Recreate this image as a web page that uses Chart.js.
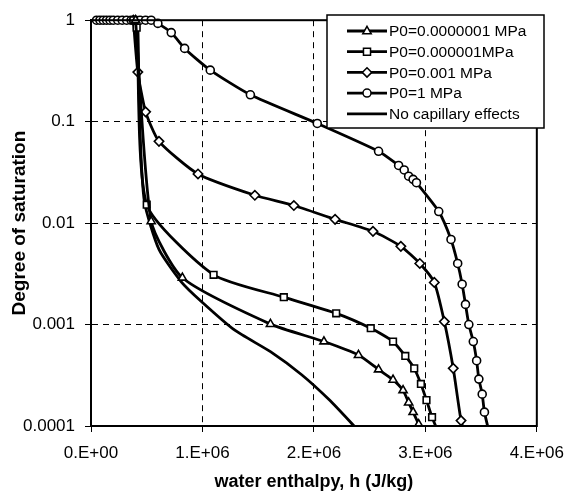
<!DOCTYPE html>
<html>
<head>
<meta charset="utf-8">
<script src="https://cdn.jsdelivr.net/npm/chart.js@4.4.1/dist/chart.umd.min.js"></script>
<style>
  html, body { margin: 0; padding: 0; background: #fff; }
  #wrap { width: 575px; height: 498px; }
</style>
</head>
<body>
<div id="wrap"><canvas id="satChart" width="575" height="498"></canvas></div>
<script>
// tick values and labels
const xTickValues = [0, 1e6, 2e6, 3e6, 4e6];
const xTickLabels = ['0.E+00', '1.E+06', '2.E+06', '3.E+06', '4.E+06'];
const yTickValues = [0.0001, 0.001, 0.01, 0.1, 1];
const yTickLabels = ['0.0001', '0.001', '0.01', '0.1', '1'];

const seriesNames = ['P0=0.0000001 MPa', 'P0=0.000001MPa', 'P0=0.001 MPa', 'P0=1 MPa', 'No capillary effects'];

// P0=0.0000001 MPa (triangles)
const triH = [0.40e6, 0.54e6, 0.82e6, 1.61e6, 2.09e6, 2.40e6, 2.58e6, 2.71e6, 2.80e6, 2.85e6, 2.89e6, 2.94e6, 2.99e6];
const triS = [1, 0.0104, 0.00289, 0.00101, 0.00068, 0.0005, 0.00036, 0.000285, 0.000225, 0.00017, 0.000137, 0.000104, 0.00008];

// P0=0.000001 MPa (squares)
const sqH = [0.38e6, 0.41e6, 0.50e6, 1.10e6, 1.73e6, 2.20e6, 2.51e6, 2.71e6, 2.82e6, 2.90e6, 2.96e6, 3.01e6, 3.06e6, 3.13e6];
const sqS = [1, 0.845, 0.0152, 0.00309, 0.00186, 0.00129, 0.00092, 0.00068, 0.00049, 0.00037, 0.00026, 0.00018, 0.000122, 0.00008];

// P0=0.001 MPa (diamonds)
const diaH = [0.38e6, 0.42e6, 0.49e6, 0.61e6, 0.96e6, 1.47e6, 1.82e6, 2.19e6, 2.53e6, 2.78e6, 2.95e6, 3.08e6, 3.17e6, 3.25e6, 3.32e6, 3.36e6];
const diaS = [1, 0.308, 0.125, 0.064, 0.0305, 0.0188, 0.0149, 0.0109, 0.0083, 0.0059, 0.0040, 0.0026, 0.00107, 0.00037, 0.000113, 0.00008];

// P0=1 MPa (circles)
const cirH = [0.05e6, 0.08e6, 0.11e6, 0.14e6, 0.17e6, 0.20e6, 0.24e6, 0.28e6, 0.32e6, 0.36e6, 0.40e6, 0.44e6, 0.49e6, 0.54e6,
              0.60e6, 0.72e6, 0.84e6, 1.07e6, 1.43e6, 2.03e6, 2.58e6, 2.76e6, 2.81e6, 2.85e6, 2.89e6, 2.92e6,
              3.12e6, 3.23e6, 3.29e6, 3.33e6, 3.36e6, 3.39e6, 3.43e6, 3.46e6, 3.48e6, 3.51e6, 3.53e6, 3.58e6];
const cirS = [1, 1, 1, 1, 1, 1, 1, 1, 1, 1, 1, 1, 1, 1,
              0.93, 0.755, 0.527, 0.322, 0.184, 0.096, 0.051, 0.037, 0.0334, 0.029, 0.027, 0.025,
              0.013, 0.0069, 0.0040, 0.0025, 0.00158, 0.001, 0.00068, 0.00044, 0.00029, 0.000206, 0.000137, 0.00008];

// no capillary effects (plain line)
const noCapH = [0.42e6, 0.44e6, 0.48e6, 0.61e6, 0.81e6, 0.99e6, 1.29e6, 1.61e6, 1.89e6, 2.14e6, 2.36e6, 2.44e6];
const noCapS = [1, 0.08, 0.016, 0.0055, 0.00264, 0.00169, 0.00088, 0.00054, 0.00032, 0.00018, 0.0001, 0.00008];

const FONT = "'Liberation Sans', Arial, sans-serif";

function pts(hs, ss) {
    return hs.map((h, i) => ({ x: h, y: ss[i] }));
}

function makeSet(label, hs, ss, style, radius) {
    return {
        label: label,
        data: pts(hs, ss),
        borderColor: '#000',
        backgroundColor: '#fff',
        borderWidth: 2.8,
        pointStyle: style || 'circle',
        pointRadius: style ? radius : 0,
        pointBorderWidth: 1.6,
        pointBorderColor: '#000',
        pointBackgroundColor: '#fff',
        tension: 0.2,
        clip: { left: 8, top: 8, right: 0, bottom: 0 }
    };
}

// draws the frame round the plot area
const framePlugin = {
    id: 'frame',
    afterDatasetsDraw(chart) {
        const a = chart.chartArea;
        const ctx = chart.ctx;
        ctx.save();
        ctx.strokeStyle = '#000';
        ctx.lineWidth = 2;
        ctx.strokeRect(a.left, a.top, a.right - a.left, a.bottom - a.top);
        ctx.restore();
    }
};

function drawMarker(ctx, style, x, y, r) {
    ctx.beginPath();
    if (style === 'triangle') {
        ctx.moveTo(x, y - r);
        ctx.lineTo(x + r * 0.9, y + r * 0.6);
        ctx.lineTo(x - r * 0.9, y + r * 0.6);
        ctx.closePath();
    } else if (style === 'rect') {
        ctx.rect(x - r * 0.75, y - r * 0.75, r * 1.5, r * 1.5);
    } else if (style === 'rectRot') {
        ctx.moveTo(x, y - r);
        ctx.lineTo(x + r, y);
        ctx.lineTo(x, y + r);
        ctx.lineTo(x - r, y);
        ctx.closePath();
    } else {
        ctx.arc(x, y, r, 0, Math.PI * 2);
    }
    ctx.fillStyle = '#fff';
    ctx.fill();
    ctx.lineWidth = 1.5;
    ctx.strokeStyle = '#000';
    ctx.stroke();
}

// legend box in the top right corner
const legendPlugin = {
    id: 'boxLegend',
    afterDraw(chart) {
        const ctx = chart.ctx;
        const bx = 327, by = 15, bw = 217, bh = 113;
        ctx.save();
        ctx.fillStyle = '#fff';
        ctx.fillRect(bx, by, bw, bh);
        ctx.strokeStyle = '#000';
        ctx.lineWidth = 1.5;
        ctx.strokeRect(bx, by, bw, bh);
        ctx.font = '15.5px ' + FONT;
        ctx.textBaseline = 'middle';
        ctx.textAlign = 'left';
        chart.data.datasets.forEach((ds, i) => {
            const y = 31 + i * 20.7;
            ctx.strokeStyle = '#000';
            ctx.lineWidth = 2.8;
            ctx.beginPath();
            ctx.moveTo(347, y);
            ctx.lineTo(387, y);
            ctx.stroke();
            if (ds.pointRadius > 0) drawMarker(ctx, ds.pointStyle, 367, y, ds.pointRadius);
            ctx.fillStyle = '#000';
            ctx.fillText(ds.label, 389, y + 1);
        });
        ctx.restore();
    }
};

const ctx = document.getElementById('satChart').getContext('2d');
const satChart = new Chart(ctx, {
    type: 'line',
    data: {
        datasets: [
            makeSet(seriesNames[0], triH, triS, 'triangle', 4.7),
            makeSet(seriesNames[1], sqH, sqS, 'rect', 4.7),
            makeSet(seriesNames[2], diaH, diaS, 'rectRot', 4.7),
            makeSet(seriesNames[3], cirH, cirS, 'circle', 4),
            makeSet(seriesNames[4], noCapH, noCapS, null, 0)
        ]
    },
    options: {
        responsive: false,
        animation: false,
        layout: { padding: { left: 0, top: 15, right: 32, bottom: 0 } },
        scales: {
            x: {
                type: 'linear',
                min: 0,
                max: 4e6,
                afterFit: function(scale) { scale.height = 72; },
                afterBuildTicks: function(scale) { scale.ticks = xTickValues.map(v => ({ value: v })); },
                ticks: {
                    color: '#000',
                    padding: 11,
                    font: { family: FONT, size: 17 },
                    callback: function(value) { return xTickLabels[xTickValues.indexOf(value)]; }
                },
                grid: { color: '#000', lineWidth: 1, tickLength: 6, tickColor: '#000', tickBorderDash: [] },
                border: { display: true, color: '#000', width: 2, dash: [6, 5] },
                title: {
                    display: true,
                    text: 'water enthalpy, h (J/kg)',
                    color: '#000',
                    font: { family: FONT, size: 18, weight: 'bold' },
                    padding: { top: 0, bottom: 5 }
                }
            },
            y: {
                type: 'logarithmic',
                min: 0.0001,
                max: 1,
                afterFit: function(scale) { scale.width = 91; },
                afterBuildTicks: function(scale) { scale.ticks = yTickValues.map(v => ({ value: v })); },
                ticks: {
                    color: '#000',
                    padding: 10,
                    font: { family: FONT, size: 17 },
                    callback: function(value) { return yTickLabels[yTickValues.indexOf(value)]; }
                },
                grid: { color: '#000', lineWidth: 1, tickLength: 6, tickColor: '#000', tickBorderDash: [] },
                border: { display: true, color: '#000', width: 2, dash: [6, 5] },
                title: {
                    display: true,
                    text: 'Degree of saturation',
                    color: '#000',
                    font: { family: FONT, size: 19, weight: 'bold' },
                    padding: { top: 8, bottom: 0 }
                }
            }
        },
        plugins: {
            legend: { display: false },
            tooltip: { enabled: false }
        }
    },
    plugins: [framePlugin, legendPlugin]
});
</script>
</body>
</html>
